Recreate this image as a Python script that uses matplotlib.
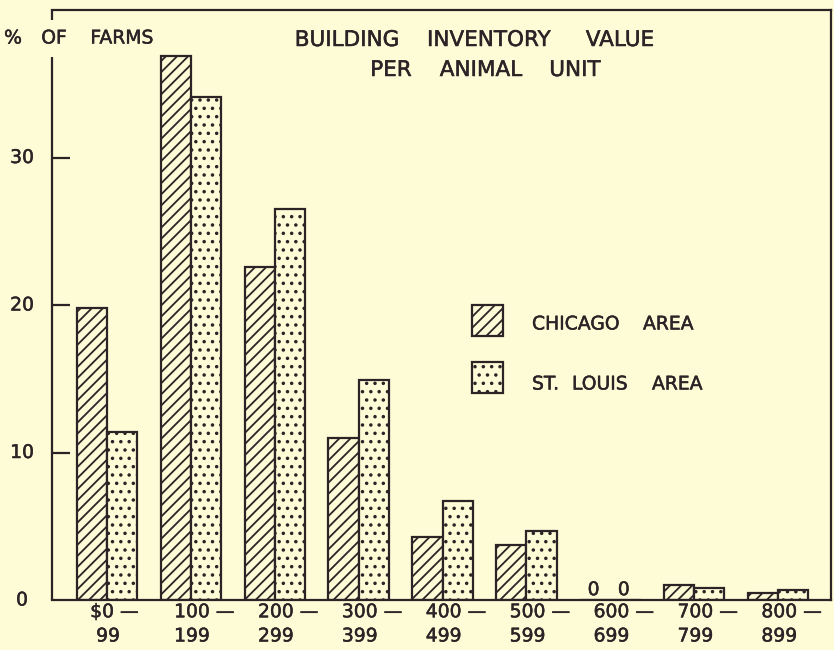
import matplotlib
matplotlib.use('Agg')
import matplotlib.pyplot as plt
from matplotlib.patches import Rectangle
import matplotlib.transforms as mtransforms
import matplotlib.patheffects as pe

# Data (% of farms)
ranges_top = ['$0 \u2014', '100 \u2014', '200 \u2014', '300 \u2014', '400 \u2014',
              '500 \u2014', '600 \u2014', '700 \u2014', '800 \u2014']
ranges_bottom = [' 99', '199', '299', '399', '499', '599', '699', '799', '899']
chicago = [19.8, 36.9, 22.6, 11.0, 4.3, 3.7, 0.0, 1.05, 0.45]
st_louis = [11.4, 34.1, 26.5, 14.9, 6.7, 4.7, 0.0, 0.78, 0.65]
y_ticks = [0, 10, 20, 30]

ink = '#2b2326'
paper = '#fdfcd6'
W, H = 834, 650

plt.rcParams['font.family'] = 'DejaVu Sans'
plt.rcParams['hatch.linewidth'] = 1.3

thick = [pe.withStroke(linewidth=0.35, foreground=ink)]
fs = 13.5
fs_title = 15.5
lw = 1.6

fig = plt.figure(figsize=(W / 100, H / 100), dpi=100, facecolor=paper)
ax = fig.add_axes([52 / W, 50 / H, 779 / W, 590 / H], facecolor=paper)


def ftext(xp, yp, s, ha='center', size=fs):
    # text placed in pixel coordinates of the figure (origin top-left)
    fig.text(xp / W, 1 - yp / H, s, ha=ha, va='center', fontsize=size, color=ink,
             path_effects=thick)


x = list(range(len(chicago)))
w = 0.36
ax.bar([i - w / 2 for i in x], chicago, width=w, facecolor=paper, edgecolor=ink,
       hatch='///', linewidth=lw)
ax.bar([i + w / 2 for i in x], st_louis, width=w, facecolor=paper, edgecolor=ink,
       hatch='..', linewidth=lw)

# zero labels
for i in x:
    if chicago[i] == 0:
        ax.text(i - w / 2 - 0.02, 0.7, '0', ha='center', va='center', fontsize=fs,
                color=ink, path_effects=thick)
    if st_louis[i] == 0:
        ax.text(i + w / 2 - 0.02, 0.7, '0', ha='center', va='center', fontsize=fs,
                color=ink, path_effects=thick)

ax.set_xlim(-0.655, 8.63)
ax.set_ylim(0, 40)

# frame: left spine with a gap for the label
for s in ['top', 'right', 'bottom']:
    ax.spines[s].set_linewidth(lw)
    ax.spines[s].set_color(ink)
ax.spines['left'].set_visible(False)
ax.plot([0, 0], [0, 0.92], transform=ax.transAxes, color=ink, lw=lw, clip_on=False,
        solid_capstyle='butt')
ax.plot([0, 0], [0.983, 1.0], transform=ax.transAxes, color=ink, lw=lw, clip_on=False,
        solid_capstyle='butt')

ax.set_xticks([])
ax.set_yticks(y_ticks[1:])
ax.tick_params(axis='y', direction='in', length=13, width=lw, color=ink, labelleft=False)

ytrans = mtransforms.blended_transform_factory(fig.transFigure, ax.transData)
for t in y_ticks:
    ax.text(22 / W, t, str(t), transform=ytrans, ha='center', va='center',
            fontsize=fs, color=ink, path_effects=thick)

xtrans = mtransforms.blended_transform_factory(ax.transData, ax.transAxes)
for i in x:
    ax.text(i - 0.2, -0.020, ranges_top[i], transform=xtrans, ha='left', va='center',
            fontsize=fs, color=ink, path_effects=thick)
    ax.text(i - 0.2, -0.061, ranges_bottom[i], transform=xtrans, ha='left', va='center',
            fontsize=fs, color=ink, path_effects=thick)

# y label
ftext(13, 38, '%')
ftext(54, 38, 'OF')
ftext(122, 38, 'FARMS')

# title, word by word
ftext(347, 40, 'BUILDING', size=fs_title)
ftext(489, 40, 'INVENTORY', size=fs_title)
ftext(620, 40, 'VALUE', size=fs_title)
ftext(391, 70, 'PER', size=fs_title)
ftext(481, 70, 'ANIMAL', size=fs_title)
ftext(575, 70, 'UNIT', size=fs_title)

# legend
ax.add_patch(Rectangle((0.539, 0.447), 0.0398, 0.0525, transform=ax.transAxes,
                       facecolor=paper, edgecolor=ink, hatch='///', linewidth=lw))
ax.add_patch(Rectangle((0.539, 0.351), 0.0398, 0.0525, transform=ax.transAxes,
                       facecolor=paper, edgecolor=ink, hatch='..', linewidth=lw))
ftext(532, 324, 'CHICAGO', ha='left')
ftext(643, 324, 'AREA', ha='left')
ftext(532, 384, 'ST.', ha='left')
ftext(572, 384, 'LOUIS', ha='left')
ftext(652, 384, 'AREA', ha='left')

fig.savefig('out.png', dpi=100, facecolor=paper)
